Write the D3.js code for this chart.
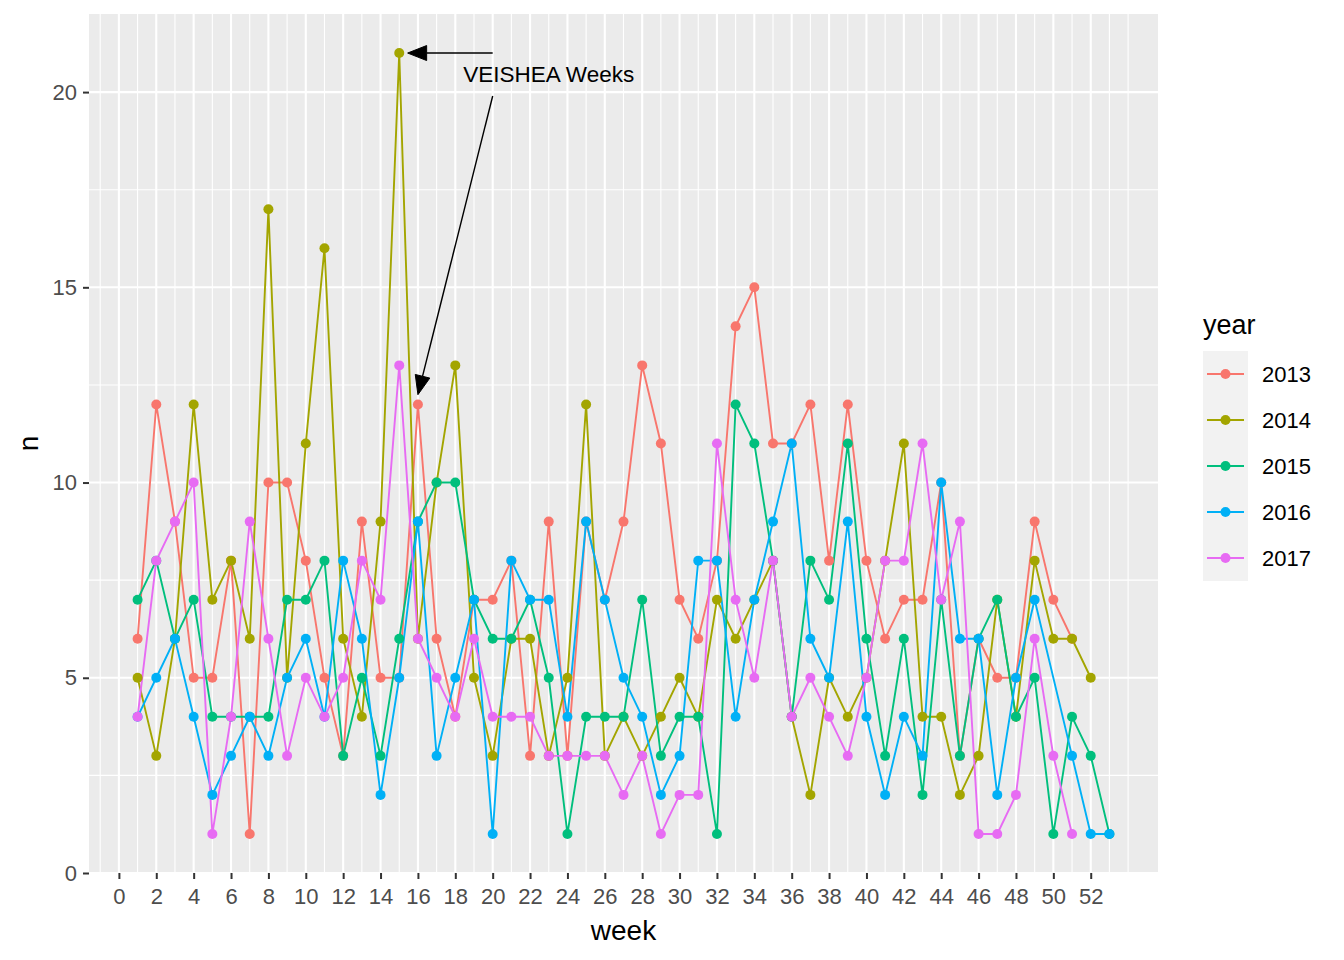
<!DOCTYPE html>
<html>
<head>
<meta charset="utf-8">
<script src="https://cdn.jsdelivr.net/npm/d3@7"></script>
<style>
	body { margin: 0; background: #fff; }
	text { font-family: "Liberation Sans", Arial, sans-serif; }
</style>
</head>
<body>
<div id="root"></div>
<script>
// weekly counts, week 1..53 (null = no row for that week)
const weeks = d3.range(1, 54);
const years = ["2013", "2014", "2015", "2016", "2017"];
const colors = ["#F8766D", "#A3A500", "#00BF7D", "#00B0F6", "#E76BF3"];

const n2013 = [6,12,9,5,5,8,1,10,10,8, 5,3,9,5,5,12,6,4,7,7, 8,3,9,3,9,7,9,13,11,7, 6,8,14,15,11,11,12,8,12,8, 6,7,7,10,3,6,5,5,9,7, 6,null,null];
const n2014 = [5,3,6,12,7,8,6,17,5,11, 16,6,4,9,21,6,10,13,5,3, 6,6,3,5,12,3,4,3,4,5, 4,7,6,7,8,4,2,5,4,5, 8,11,4,4,2,3,7,4,8,6, 6,5,null];
const n2015 = [7,8,6,7,4,4,4,4,7,7, 8,3,5,3,6,9,10,10,7,6, 6,7,5,1,4,4,4,7,3,4, 4,1,12,11,8,4,8,7,11,6, 3,6,2,7,3,6,7,4,5,1, 4,3,1];
const n2016 = [4,5,6,4,2,3,4,3,5,6, 4,8,6,2,5,9,3,5,7,1, 8,7,7,4,9,7,5,4,2,3, 8,8,4,7,9,11,6,5,9,4, 2,4,3,10,6,6,2,5,7,null, 3,1,1];
const n2017 = [4,8,9,10,1,4,9,6,3,5, 4,5,8,7,13,6,5,4,6,4, 4,4,3,3,3,3,2,3,1,2, 2,11,7,5,8,4,5,4,3,5, 8,8,11,7,9,1,1,2,6,3, 1,null,null];
const seriesValues = [n2013, n2014, n2015, n2016, n2017];

const xTicks = d3.range(0, 53, 2);
const xMinor = [-1].concat(d3.range(1, 54, 2), [54]);
const yTicks = [0, 5, 10, 15, 20];
const yMinor = [2.5, 7.5, 12.5, 17.5];

// annotation (data units)
const noteText = "VEISHEA Weeks";
const noteX = 23, noteY = 20.45;
const arrows = [
	{ x: 20, y: 21, xend: 15.45, yend: 21 },
	{ x: 20, y: 19.9, xend: 16, yend: 12.25 }
];

const W = 1344, H = 960;
const panel = { left: 89, right: 1158, top: 14, bottom: 873 };

const svg = d3.select("#root")
	.append("svg")
		.attr("width", W)
		.attr("height", H);

const x = d3.scaleLinear().domain([-1.6, 55.6]).range([panel.left, panel.right]);
const y = d3.scaleLinear().domain([0, 22]).range([panel.bottom, panel.top]);

// panel background + grid
svg.append("rect")
	.attr("x", panel.left).attr("y", panel.top)
	.attr("width", panel.right - panel.left).attr("height", panel.bottom - panel.top)
	.attr("fill", "#EBEBEB");

const grid = svg.append("g");
grid.selectAll(".vminor").data(xMinor).enter().append("line")
	.attr("x1", d => x(d)).attr("x2", d => x(d))
	.attr("y1", panel.top).attr("y2", panel.bottom)
	.attr("stroke", "#fff").attr("stroke-width", 1.1);
grid.selectAll(".hminor").data(yMinor).enter().append("line")
	.attr("y1", d => y(d)).attr("y2", d => y(d))
	.attr("x1", panel.left).attr("x2", panel.right)
	.attr("stroke", "#fff").attr("stroke-width", 1.1);
grid.selectAll(".vmajor").data(xTicks).enter().append("line")
	.attr("x1", d => x(d)).attr("x2", d => x(d))
	.attr("y1", panel.top).attr("y2", panel.bottom)
	.attr("stroke", "#fff").attr("stroke-width", 2.1);
grid.selectAll(".hmajor").data(yTicks).enter().append("line")
	.attr("y1", d => y(d)).attr("y2", d => y(d))
	.attr("x1", panel.left).attr("x2", panel.right)
	.attr("stroke", "#fff").attr("stroke-width", 2.1);

// axes
const xAxis = svg.append("g")
	.attr("transform", `translate(0, ${panel.bottom})`)
	.call(d3.axisBottom(x).tickValues(xTicks).tickSize(6).tickPadding(9));
const yAxis = svg.append("g")
	.attr("transform", `translate(${panel.left}, 0)`)
	.call(d3.axisLeft(y).tickValues(yTicks).tickSize(6).tickPadding(6));

[xAxis, yAxis].forEach(a => {
	a.select(".domain").remove();
	a.selectAll(".tick line").attr("stroke", "#333").attr("stroke-width", 2);
	a.selectAll(".tick text")
		.attr("fill", "#4D4D4D")
		.style("font-size", "22px")
		.style("font-family", "'Liberation Sans', Arial, sans-serif");
});

svg.append("text")
	.attr("x", (panel.left + panel.right) / 2).attr("y", 940)
	.attr("text-anchor", "middle")
	.style("font-size", "28px")
	.text("week");

svg.append("text")
	.attr("transform", `translate(38, ${(panel.top + panel.bottom) / 2}) rotate(-90)`)
	.attr("text-anchor", "middle")
	.style("font-size", "28px")
	.text("n");

// series
const series = years.map((yr, i) => ({
	year: yr,
	color: colors[i],
	points: weeks.map((w, j) => ({ week: w, n: seriesValues[i][j] })).filter(p => p.n !== null)
}));

const line = d3.line().x(d => x(d.week)).y(d => y(d.n));

svg.append("g").selectAll("path").data(series).enter().append("path")
	.attr("d", d => line(d.points))
	.attr("fill", "none")
	.attr("stroke", d => d.color)
	.attr("stroke-width", 1.9);

svg.append("g").selectAll("g").data(series).enter().append("g")
	.attr("fill", d => d.color)
	.selectAll("circle")
	.data(d => d.points)
	.enter().append("circle")
		.attr("cx", d => x(d.week))
		.attr("cy", d => y(d.n))
		.attr("r", 5);

// annotation
const ann = svg.append("g");
arrows.forEach(a => {
	const x1 = x(a.x), y1 = y(a.y), x2 = x(a.xend), y2 = y(a.yend);
	const ang = Math.atan2(y2 - y1, x2 - x1);
	const len = 19, half = 7.5;
	const bx = x2 - len * Math.cos(ang), by = y2 - len * Math.sin(ang);
	ann.append("line")
		.attr("x1", x1).attr("y1", y1).attr("x2", bx).attr("y2", by)
		.attr("stroke", "#000").attr("stroke-width", 1.4);
	ann.append("path")
		.attr("d", `M${x2},${y2}L${bx - half * Math.sin(ang)},${by + half * Math.cos(ang)}L${bx + half * Math.sin(ang)},${by - half * Math.cos(ang)}Z`)
		.attr("fill", "#000").attr("stroke", "#000").attr("stroke-width", 1);
});
ann.append("text")
	.attr("x", x(noteX)).attr("y", y(noteY))
	.attr("text-anchor", "middle")
	.attr("dominant-baseline", "central")
	.style("font-size", "22.5px")
	.text(noteText);

// legend
const legend = svg.append("g").attr("transform", "translate(1203, 0)");
legend.append("text")
	.attr("x", 0).attr("y", 334)
	.style("font-size", "27px")
	.text("year");

const keyH = 46;
const keys = legend.selectAll(".key").data(series).enter().append("g")
	.attr("transform", (d, i) => `translate(0, ${351 + i * keyH})`);
keys.append("rect")
	.attr("width", 45).attr("height", keyH)
	.attr("fill", "#F2F2F2");
keys.append("line")
	.attr("x1", 4).attr("x2", 41)
	.attr("y1", keyH / 2).attr("y2", keyH / 2)
	.attr("stroke", d => d.color).attr("stroke-width", 1.9);
keys.append("circle")
	.attr("cx", 22.5).attr("cy", keyH / 2).attr("r", 5)
	.attr("fill", d => d.color);
keys.append("text")
	.attr("x", 59).attr("y", keyH / 2)
	.attr("dominant-baseline", "central")
	.style("font-size", "22px")
	.text(d => d.year);
</script>
</body>
</html>
